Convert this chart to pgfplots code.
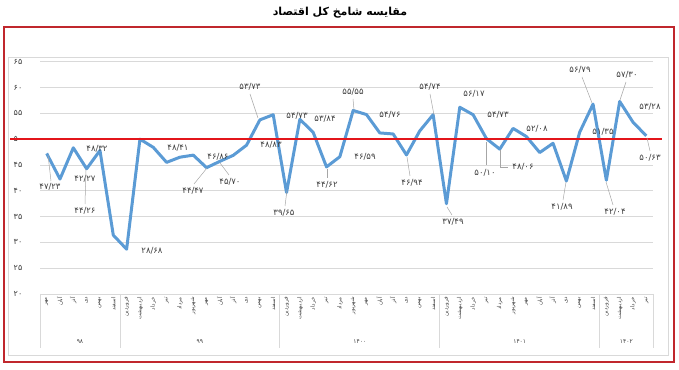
\documentclass[border=0pt]{standalone}
\usepackage{pgfplots}
\pgfplotsset{compat=1.18}
\usepackage{pgfplotstable}
\usepackage{fontspec}
\setmainfont{DejaVu Sans}
\newfontfamily\arabicfont[Script=Arabic]{DejaVu Sans}
\TeXXeTstate=1
\definecolor{pmiblue}{HTML}{5B9BD5}
\definecolor{refred}{HTML}{E3151B}
\definecolor{framered}{HTML}{C0272D}
\definecolor{gridgray}{HTML}{D9D9D9}
\definecolor{txtgray}{HTML}{404040}
\definecolor{leadgray}{HTML}{A6A6A6}

\pgfplotstableread{
i v
0 47.23
1 42.27
2 48.32
3 44.26
4 47.80
5 31.40
6 28.68
7 50.00
8 48.41
9 45.50
10 46.50
11 46.90
12 44.47
13 45.70
14 46.86
15 48.83
16 53.73
17 54.73
18 39.65
19 53.84
20 51.30
21 44.62
22 46.59
23 55.55
24 54.76
25 51.20
26 51.00
27 46.94
28 51.60
29 54.74
30 37.49
31 56.17
32 54.73
33 50.10
34 48.06
35 52.08
36 50.50
37 47.40
38 49.20
39 41.89
40 51.35
41 56.79
42 42.04
43 57.30
44 53.28
45 50.63
}\data

\newcommand{\lbl}[3]{\node[font=\arabicfont\fontsize{8.5}{10}\selectfont, text=txtgray, inner sep=0pt] at ({#1pt},{369pt-#2pt}) {#3};}
\newcommand{\ldr}[4]{\draw[leadgray, line width=0.5pt] ({#1pt},{369pt-#2pt}) -- ({#3pt},{369pt-#4pt});}

\begin{document}
\begin{tikzpicture}
\path[use as bounding box] (0pt,0pt) rectangle (679pt,369pt);
% frames
\draw[framered, line width=2pt] (4pt,{369pt-27pt}) rectangle (674pt,{369pt-362pt});
\draw[gridgray, line width=0.8pt] (8pt,{369pt-57pt}) rectangle (668pt,{369pt-355pt});
% title
\node[font=\arabicfont\bfseries\fontsize{11}{13}\selectfont] at (340pt,{369pt-13pt}) {\beginR مقایسه شامخ کل اقتصاد\endR};

\begin{axis}[
  at={(40pt,75pt)}, anchor=south west,
  width=613pt, height=232.3pt, scale only axis,
  xmin=-0.5, xmax=45.5, ymin=20, ymax=65,
  clip=false,
  axis line style={draw=none},
  major tick length=0pt,
  ytick={20,25,...,65},
  yticklabels={۲۰,۲۵,۳۰,۳۵,۴۰,۴۵,۵۰,۵۵,۶۰,۶۵},
  yticklabel style={font=\arabicfont\fontsize{8}{9}\selectfont, text=txtgray, anchor=center, inner sep=0pt, xshift=-22pt},
  ymajorgrids, grid style={gridgray, line width=0.8pt},
  xtick={0,...,45},
  xticklabels={مهر,آبان,آذر,دی,بهمن,اسفند,
    فروردین,اردیبهشت,خرداد,تیر,مرداد,شهریور,مهر,آبان,آذر,دی,بهمن,اسفند,
    فروردین,اردیبهشت,خرداد,تیر,مرداد,شهریور,مهر,آبان,آذر,دی,بهمن,اسفند,
    فروردین,اردیبهشت,خرداد,تیر,مرداد,شهریور,مهر,آبان,آذر,دی,بهمن,اسفند,
    فروردین,اردیبهشت,خرداد,تیر},
  xticklabel style={font=\arabicfont\fontsize{5.5}{6}\selectfont, text=txtgray, rotate=90, anchor=east, inner sep=0pt},
  xticklabel shift=3pt,
]
\addplot[pmiblue, line width=3pt, line join=round] table[x=i, y=v] {\data};
\addplot[refred, line width=1.8pt] coordinates {(-2.75,50) (46.2,50)};
% category separators
\foreach \s in {-0.5,5.5,17.5,29.5,41.5,45.5} {
  \edef\tmp{\noexpand\draw[gridgray, line width=0.8pt] (axis cs:\s,20) -- (axis cs:\s,9.5);}
  \tmp
}
\node[font=\arabicfont\fontsize{6}{7}\selectfont, text=txtgray] at (axis cs:2.5,10.7) {۹۸};
\node[font=\arabicfont\fontsize{6}{7}\selectfont, text=txtgray] at (axis cs:11.5,10.7) {۹۹};
\node[font=\arabicfont\fontsize{6}{7}\selectfont, text=txtgray] at (axis cs:23.5,10.7) {۱۴۰۰};
\node[font=\arabicfont\fontsize{6}{7}\selectfont, text=txtgray] at (axis cs:35.5,10.7) {۱۴۰۱};
\node[font=\arabicfont\fontsize{6}{7}\selectfont, text=txtgray] at (axis cs:43.5,10.7) {۱۴۰۲};
\end{axis}

% data labels
\lbl{50}{187}{۴۷/۲۳}\ldr{48}{155}{51}{181}
\lbl{85}{179}{۴۲/۲۷}
\lbl{97}{149}{۴۸/۳۲}
\lbl{85}{211}{۴۴/۲۶}\ldr{86}{169}{85}{204}
\lbl{152}{251}{۲۸/۶۸}
\lbl{178}{148}{۴۸/۴۱}
\lbl{218}{157}{۴۶/۸۶}
\lbl{193}{191}{۴۴/۴۷}\ldr{207}{168}{194}{184}
\lbl{230}{182}{۴۵/۷۰}\ldr{220}{163}{229}{175}
\lbl{271}{145}{۴۸/۸۳}
\lbl{250}{87}{۵۳/۷۳}\ldr{250}{94}{258}{118}
\lbl{284}{213}{۳۹/۶۵}\ldr{287}{190}{285}{206}
\lbl{297}{116}{۵۴/۷۳}
\lbl{325}{119}{۵۳/۸۴}
\lbl{327}{185}{۴۴/۶۲}\ldr{327}{169}{327}{178}
\lbl{365}{157}{۴۶/۵۹}
\lbl{353}{92}{۵۵/۵۵}\ldr{353}{99}{354}{110}
\lbl{390}{115}{۵۴/۷۶}
\lbl{412}{183}{۴۶/۹۴}\ldr{407}{157}{410}{176}
\lbl{430}{87}{۵۴/۷۴}\ldr{430}{94}{434}{115}
\lbl{453}{222}{۳۷/۴۹}\ldr{447}{207}{452}{215}
\lbl{474}{94}{۵۶/۱۷}
\lbl{498}{115}{۵۴/۷۳}
\lbl{485}{173}{۵۰/۱۰}\ldr{486}{142}{486}{165}
\lbl{523}{167}{۴۸/۰۶}\ldr{500}{150}{500}{167}\ldr{500}{167}{508}{167}
\lbl{537}{129}{۵۲/۰۸}
\lbl{562}{207}{۴۱/۸۹}\ldr{566}{182}{563}{200}
\lbl{603}{132}{۵۱/۳۵}
\lbl{580}{70}{۵۶/۷۹}\ldr{582}{77}{592}{103}
\lbl{615}{212}{۴۲/۰۴}\ldr{606}{182}{613}{205}
\lbl{627}{75}{۵۷/۳۰}\ldr{626}{82}{620}{100}
\lbl{650}{107}{۵۳/۲۸}
\lbl{650}{158}{۵۰/۶۳}\ldr{647}{138}{650}{151}
\end{tikzpicture}
\end{document}
